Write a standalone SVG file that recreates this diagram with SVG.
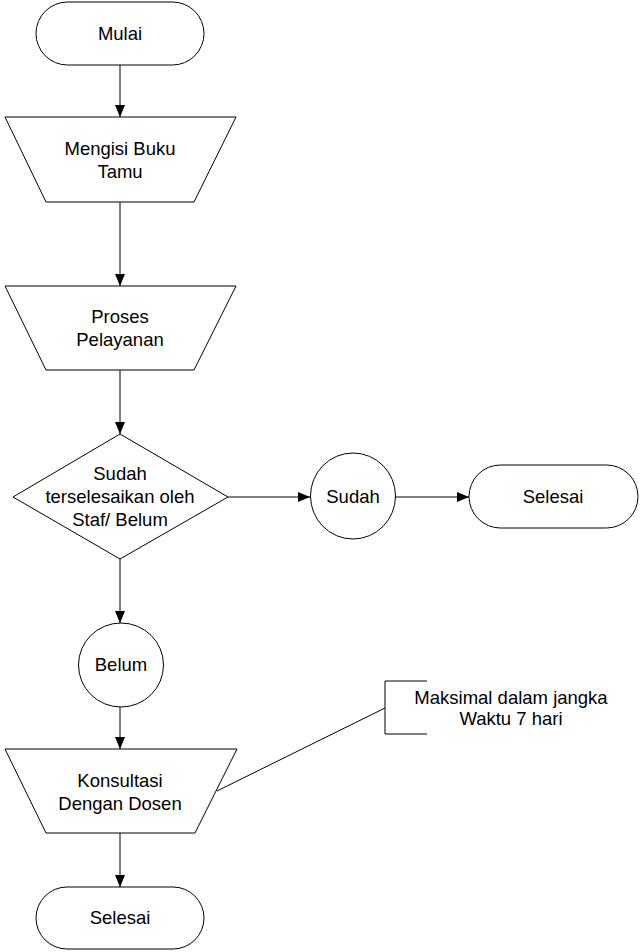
<svg xmlns="http://www.w3.org/2000/svg" width="640" height="952" viewBox="0 0 640 952">
<style>
.s{fill:#fff;stroke:#000;stroke-width:1}
.t{font-family:"Liberation Sans",Arial,sans-serif;font-size:18.5px;fill:#000;text-anchor:middle}
.c{fill:none;stroke:#000;stroke-width:1}
</style>
<defs>
<marker id="ah" markerWidth="12" markerHeight="10" refX="12" refY="5" orient="auto" markerUnits="userSpaceOnUse">
<path d="M0,0 L12,5 L0,10 Z" fill="#000"/>
</marker>
</defs>
<rect width="640" height="952" fill="#fff"/>
<g id="connectors">
<line class="c" x1="120" y1="65" x2="120" y2="117" marker-end="url(#ah)"/>
<line class="c" x1="120" y1="202" x2="120" y2="286" marker-end="url(#ah)"/>
<line class="c" x1="120" y1="370" x2="120" y2="434" marker-end="url(#ah)"/>
<line class="c" x1="228" y1="497" x2="310" y2="497" marker-end="url(#ah)"/>
<line class="c" x1="395" y1="497" x2="469" y2="497" marker-end="url(#ah)"/>
<line class="c" x1="120" y1="559" x2="120" y2="623" marker-end="url(#ah)"/>
<line class="c" x1="120" y1="707" x2="120" y2="749" marker-end="url(#ah)"/>
<line class="c" x1="120" y1="833" x2="120" y2="887" marker-end="url(#ah)"/>
<line class="c" x1="217" y1="791" x2="385" y2="708"/>
</g>
<g id="mulai">
<rect class="s" x="36" y="2" width="168" height="63" rx="31.5" ry="31.5"/>
<text class="t" x="120" y="40">Mulai</text>
</g>
<g id="mengisi">
<polygon class="s" points="5,117 236,117 194,202 46,202"/>
<text class="t" x="120" y="155">Mengisi Buku</text>
<text class="t" x="120" y="178">Tamu</text>
</g>
<g id="proses">
<polygon class="s" points="5,286 236,286 194,370 46,370"/>
<text class="t" x="120" y="323">Proses</text>
<text class="t" x="120" y="346">Pelayanan</text>
</g>
<g id="keputusan">
<polygon class="s" points="120,434 228,497 120,559 13,497"/>
<text class="t" x="120" y="480">Sudah</text>
<text class="t" x="120" y="503">terselesaikan oleh</text>
<text class="t" x="120" y="526">Staf/ Belum</text>
</g>
<g id="sudah">
<ellipse class="s" cx="353" cy="496" rx="42.5" ry="43"/>
<text class="t" x="353" y="503">Sudah</text>
</g>
<g id="selesai1">
<rect class="s" x="469" y="465" width="169" height="63" rx="31.5" ry="31.5"/>
<text class="t" x="553" y="503">Selesai</text>
</g>
<g id="belum">
<ellipse class="s" cx="121" cy="665" rx="42.5" ry="42"/>
<text class="t" x="121" y="671">Belum</text>
</g>
<g id="konsultasi">
<polygon class="s" points="5,749 237,749 195,833 46,833"/>
<text class="t" x="120" y="787">Konsultasi</text>
<text class="t" x="120" y="810">Dengan Dosen</text>
</g>
<g id="selesai2">
<rect class="s" x="36" y="887" width="168" height="62" rx="31" ry="31"/>
<text class="t" x="120" y="924">Selesai</text>
</g>
<g id="anotasi">
<polyline class="c" points="427,681 385,681 385,734 427,734"/>
<text class="t" x="511" y="704">Maksimal dalam jangka</text>
<text class="t" x="511" y="725">Waktu 7 hari</text>
</g>
</svg>
